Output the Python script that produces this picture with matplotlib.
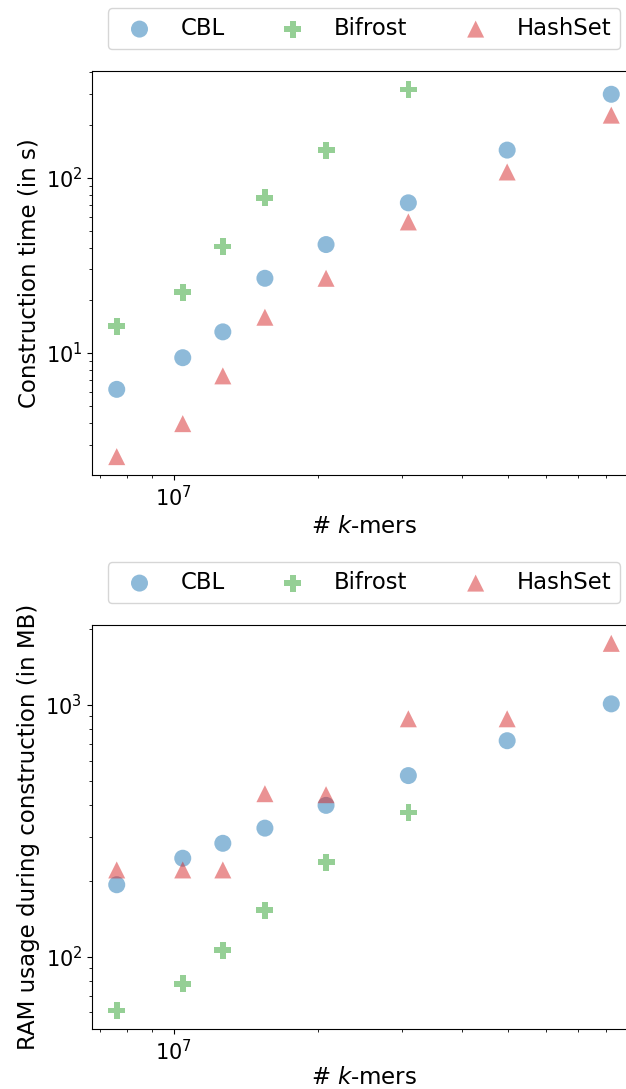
import numpy as np
import matplotlib
matplotlib.use("Agg")
import matplotlib.pyplot as plt

# number of k-mers per dataset
kmers = [7.6e6, 1.044e7, 1.266e7, 1.55e7, 2.08e7, 3.09e7, 4.97e7, 8.2e7]

# construction time (s)
time_cbl = [6.2, 9.4, 13.2, 26.7, 41.6, 72, 144, 300]
time_bifrost = [14.2, 22.2, 40.6, 77, 144, 320]
time_hashset = [2.56, 3.95, 7.4, 16.0, 26.7, 56, 108, 228]

# RAM usage (MB)
ram_cbl = [193, 246, 282, 324, 399, 524, 721, 1010]
ram_bifrost = [61, 78, 106, 153, 237, 374]
ram_hashset = [221, 221, 221, 444, 440, 881, 881, 1757]

W, H = 626, 1089
fig = plt.figure(figsize=(W / 100, H / 100), dpi=100)

ax1 = fig.add_axes([92 / W, 1 - 475 / H, 544 / W, 404 / H])
ax2 = fig.add_axes([92 / W, 1 - 1029 / H, 544 / W, 404 / H])

def draw(ax, cbl, bif, hs, ylabel, xpad=4):
    nb = len(bif)
    ax.scatter(kmers, cbl, s=150, marker="o", color="tab:blue", alpha=0.5,
               edgecolors="none", label="CBL")
    ax.scatter(kmers[:nb], bif, s=150, marker="P", color="tab:green", alpha=0.5,
               edgecolors="none", label="Bifrost")
    ax.scatter(kmers, hs, s=150, marker="^", color="tab:red", alpha=0.5,
               edgecolors="none", label="HashSet")
    ax.set_xscale("log")
    ax.set_yscale("log")
    ax.set_xlabel("# $k$-mers", fontsize=16.5, labelpad=xpad)
    ax.set_ylabel(ylabel, fontsize=16.5)
    ax.tick_params(labelsize=15)
    ax.legend(loc="lower center", bbox_to_anchor=(0.5, 1.054), borderaxespad=0,
              ncol=3, fontsize=16.4)

draw(ax1, time_cbl, time_bifrost, time_hashset, "Construction time (in s)")
draw(ax2, ram_cbl, ram_bifrost, ram_hashset, "RAM usage during construction (in MB)", xpad=1.5)

fig.savefig("out.png", dpi=100)
